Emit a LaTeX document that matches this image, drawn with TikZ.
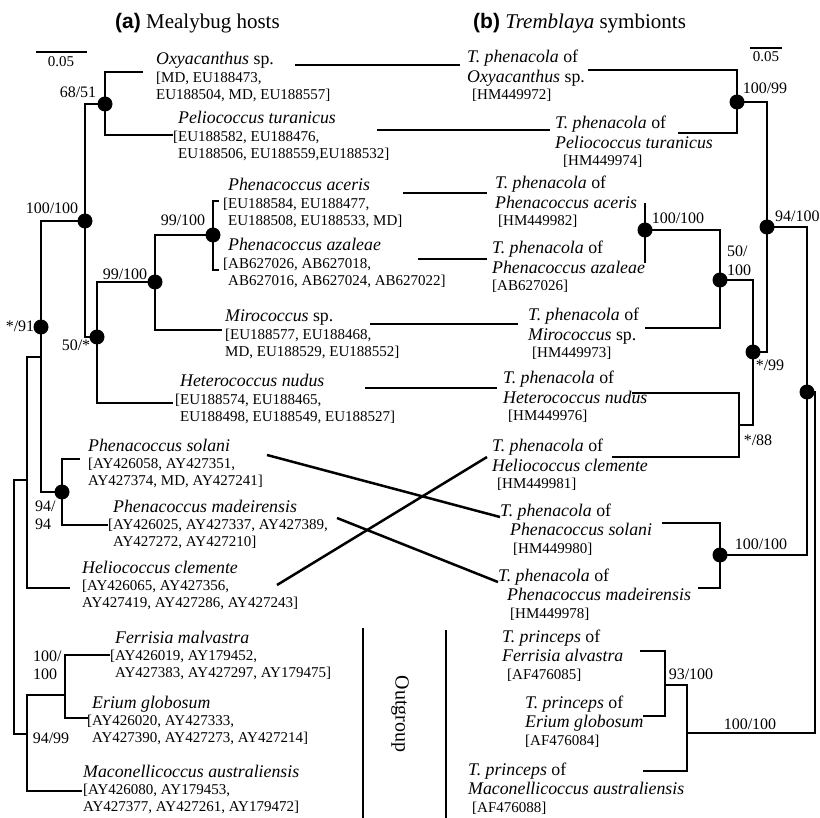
\documentclass[tikz,border=0pt]{standalone}
\usepackage{fontspec}
\setmainfont{Liberation Serif}
\newfontfamily\headsf{Liberation Sans}
\newcommand\nmf{\fontsize{17.8}{17.5}\selectfont\itshape}
\newcommand\acf{\fontsize{15}{17.5}\selectfont\upshape}
\newcommand\up[1]{\textup{#1}}
% left block: italic name + two accession lines
\newcommand\tblk[3]{\vtop{\lineskiplimit=-30pt\lineskip=0pt\baselineskip=17.5pt\hbox{\nmf #1}\hbox{\acf #2}\baselineskip=17pt\hbox{\acf #3}}}
% right block: two italic lines + one accession line
\newcommand\sblk[3]{\vtop{\lineskiplimit=-30pt\lineskip=0pt\baselineskip=19.5pt\hbox{\nmf #1}\hbox{\nmf #2}\baselineskip=17.5pt\hbox{\acf #3}}}
\begin{document}
\begin{tikzpicture}[x=1pt,y=-1pt,
  br/.style={line width=1.5pt},
  cn/.style={line width=2.5pt},
  dot/.style={circle,fill=black,draw=none,inner sep=0pt,minimum size=15pt},
  supp/.style={font=\fontsize{16}{18}\selectfont,inner sep=0pt},
  txt/.style={anchor=base west,inner sep=0pt}]
\useasboundingbox (0,0) rectangle (820,818);
\fill[white] (0,0) rectangle (820,818);

% ---------- titles ----------
\node[txt] (ta) at (115,29) {\fontsize{21}{24}\selectfont{\headsf\bfseries (a)} Mealybug hosts};
\node[txt] (tb) at (473,29) {\fontsize{21}{24}\selectfont{\headsf\bfseries (b)} \textit{Tremblaya} symbionts};

% ---------- scale bars ----------
\coordinate (sa1) at (36,52); \coordinate (sa2) at (87,52);
\draw[line width=1.3pt] (sa1) -- (sa2);
\node[font=\fontsize{15}{17}\selectfont,inner sep=0pt] (sal) at (61,62) {0.05};
\coordinate (sb1) at (750,48); \coordinate (sb2) at (782,48);
\draw[line width=1.3pt] (sb1) -- (sb2);
\node[font=\fontsize{15}{17}\selectfont,inner sep=0pt] (sbl) at (766,57) {0.05};

% ---------- left tree coordinates ----------
\coordinate (aRoot) at (14,607);
\coordinate (aIn) at (27,480);
\coordinate (aOG) at (27,734);
\coordinate (a91) at (41,357);
\coordinate (a91dot) at (41,327);
\coordinate (a100) at (85,221);
\coordinate (a68) at (105,104);
\coordinate (a50) at (97,337);
\coordinate (a99b) at (155,282);
\coordinate (a99a) at (213,235);
\coordinate (a94) at (62,492);
\coordinate (aFE) at (65,695);
\coordinate (tOxy) at (143,72);
\coordinate (tPel) at (173,135);
\coordinate (tAce) at (219,201);
\coordinate (tAza) at (219,270);
\coordinate (tMir) at (222,330);
\coordinate (tHet) at (173,403);
\coordinate (tSol) at (80,459);
\coordinate (tMad) at (108,525);
\coordinate (tHel) at (70,588);
\coordinate (tFer) at (110,655);
\coordinate (tEri) at (88,718);
\coordinate (tMac) at (82,791);

\draw[br] (aRoot) |- (aIn);
\draw[br] (aRoot) |- (aOG);
\draw[br] (aIn) |- (a91);
\draw[br] (aIn) |- (tHel);
\draw[br] (a91) |- (a100);
\draw[br] (a91) |- (a94);
\draw[br] (a100) |- (a68);
\draw[br] (a100) |- (a50);
\draw[br] (a68) |- (tOxy);
\draw[br] (a68) |- (tPel);
\draw[br] (a50) |- (a99b);
\draw[br] (a50) |- (tHet);
\draw[br] (a99b) |- (a99a);
\draw[br] (a99b) |- (tMir);
\draw[br] (a99a) |- (tAce);
\draw[br] (a99a) |- (tAza);
\draw[br] (a94) |- (tSol);
\draw[br] (a94) |- (tMad);
\draw[br] (aOG) |- (aFE);
\draw[br] (aOG) |- (tMac);
\draw[br] (aFE) |- (tFer);
\draw[br] (aFE) |- (tEri);

\foreach \n in {a91dot,a100,a68,a50,a99b,a99a,a94} \node[dot] at (\n) {};

% left support values
\node[supp] (l68) at (78,92) {68/51};
\node[supp] (l100) at (52,208) {100/100};
\node[supp] (l91) at (20,326) {*/91};
\node[supp] (l50) at (76,345) {50/*};
\node[supp] (l99a) at (183,220) {99/100};
\node[supp] (l99b) at (125,274) {99/100};
\node[supp,anchor=base west] (l94) at (35,511.5) {\vtop{\baselineskip=18pt\hbox{94/}\hbox{94}}};
\node[supp,anchor=base west] (lFE) at (33,661) {\vtop{\baselineskip=18.5pt\hbox{100/}\hbox{100}}};
\node[supp] (lOG) at (51,738) {94/99};

% left text blocks
\node[txt] (L1) at (156,65) {\tblk{Oxyacanthus \up{sp.}}{[MD, EU188473,}{EU188504, MD, EU188557]}};
\node[txt] (L2) at (178,124) {\tblk{Peliococcus turanicus}{\llap{[}EU188582, EU188476,}{EU188506, EU188559,EU188532]}};
\node[txt] (L3) at (228,191) {\tblk{Phenacoccus aceris}{\llap{[}EU188584, EU188477,}{EU188508, EU188533, MD]}};
\node[txt] (L4) at (228,251) {\tblk{Phenacoccus azaleae}{\llap{[}AB627026, AB627018,}{AB627016, AB627024, AB627022]}};
\node[txt] (L5) at (225,322) {\tblk{Mirococcus \up{sp.}}{[EU188577, EU188468,}{MD, EU188529, EU188552]}};
\node[txt] (L6) at (180,387) {\tblk{Heterococcus nudus}{\llap{[}EU188574, EU188465,}{EU188498, EU188549, EU188527]}};
\node[txt] (L7) at (88,451) {\tblk{Phenacoccus solani}{[AY426058, AY427351,}{AY427374, MD, AY427241]}};
\node[txt] (L8) at (113,512) {\tblk{Phenacoccus madeirensis}{\llap{[}AY426025, AY427337, AY427389,}{AY427272, AY427210]}};
\node[txt] (L9) at (82,573) {\tblk{Heliococcus clemente}{[AY426065, AY427356,}{AY427419, AY427286, AY427243]}};
\node[txt] (L10) at (115,643) {\tblk{Ferrisia malvastra}{\llap{[}AY426019, AY179452,}{AY427383, AY427297, AY179475]}};
\node[txt] (L11) at (92,708) {\tblk{Erium globosum}{\llap{[}AY426020, AY427333,}{AY427390, AY427273, AY427214]}};
\node[txt] (L12) at (83,777) {\tblk{Maconellicoccus australiensis}{[AY426080, AY179453,}{AY427377, AY427261, AY179472]}};

% ---------- right tree coordinates ----------
\coordinate (bRoot) at (815,560);
\coordinate (bBig) at (807,392);
\coordinate (b94) at (767,227);
\coordinate (b1099) at (737,102);
\coordinate (b99) at (753,352);
\coordinate (b50) at (720,280);
\coordinate (b100a) at (645,230);
\coordinate (b88) at (739,425);
\coordinate (b100b) at (720,555);
\coordinate (bOG) at (687,733);
\coordinate (b93) at (665,685);
\coordinate (uOxy) at (588,70);
\coordinate (uPel) at (678,133);
\coordinate (uAce) at (645,203);
\coordinate (uAza) at (645,263);
\coordinate (uMir) at (645,328);
\coordinate (uHet) at (632,393);
\coordinate (uHel) at (612,457);
\coordinate (uSol) at (662,523);
\coordinate (uMad) at (698,588);
\coordinate (uFer) at (640,651);
\coordinate (uEri) at (643,716);
\coordinate (uMac) at (643,771);

\draw[br] (bRoot) |- (bBig);
\draw[br] (bRoot) |- (bOG);
\draw[br] (bBig) |- (b94);
\draw[br] (bBig) |- (b100b);
\draw[br] (b94) |- (b1099);
\draw[br] (b94) |- (b99);
\draw[br] (b1099) |- (uOxy);
\draw[br] (b1099) |- (uPel);
\draw[br] (b99) |- (b50);
\draw[br] (b99) |- (b88);
\draw[br] (b50) |- (b100a);
\draw[br] (b50) |- (uMir);
\draw[br] (b100a) |- (uAce);
\draw[br] (b100a) |- (uAza);
\draw[br] (b88) |- (uHet);
\draw[br] (b88) |- (uHel);
\draw[br] (b100b) |- (uSol);
\draw[br] (b100b) |- (uMad);
\draw[br] (bOG) |- (b93);
\draw[br] (bOG) |- (uMac);
\draw[br] (b93) |- (uFer);
\draw[br] (b93) |- (uEri);

\foreach \n in {bBig,b94,b1099,b99,b50,b100a,b100b} \node[dot] at (\n) {};

% right support values
\node[supp] (r1099) at (765,88) {100/99};
\node[supp,anchor=west] (r94) at (775,216) {94/100};
\node[supp] (r100a) at (678,218) {100/100};
\node[supp,anchor=base west] (r50) at (727,257) {\vtop{\baselineskip=19pt\hbox{50/}\hbox{100}}};
\node[supp] (r99) at (770,365) {*/99};
\node[supp] (r88) at (758,440) {*/88};
\node[supp] (r100b) at (761,544) {100/100};
\node[supp] (r93) at (691,674) {93/100};
\node[supp] (rOG) at (750,724) {100/100};

% right text blocks
\node[txt] (R1) at (467,63) {\sblk{T. phenacola \up{of}}{Oxyacanthus \up{sp.}}{\kern5pt[HM449972]}};
\node[txt] (R2) at (555,129) {\sblk{T. phenacola \up{of}}{Peliococcus turanicus}{\kern8pt[HM449974]}};
\node[txt] (R3) at (495,189) {\sblk{T. phenacola \up{of}}{Phenacoccus aceris}{\kern3pt[HM449982]}};
\node[txt] (R4) at (492,254) {\sblk{T. phenacola \up{of}}{Phenacoccus azaleae}{[AB627026]}};
\node[txt] (R5) at (528,321) {\sblk{T. phenacola \up{of}}{Mirococcus \up{sp.}}{\kern4pt[HM449973]}};
\node[txt] (R6) at (503,384) {\sblk{T. phenacola \up{of}}{Heterococcus nudus}{\kern5pt[HM449976]}};
\node[txt] (R7) at (492,452) {\sblk{T. phenacola \up{of}}{Heliococcus clemente}{\kern5pt[HM449981]}};
\node[txt] (R8) at (500,516) {\sblk{T. phenacola \up{of}}{\kern10pt Phenacoccus solani}{\kern13pt[HM449980]}};
\node[txt] (R9) at (498,581) {\sblk{T. phenacola \up{of}}{\kern9pt Phenacoccus madeirensis}{\kern12pt[HM449978]}};
\node[txt] (R10) at (502,642) {\sblk{T. princeps \up{of}}{Ferrisia alvastra}{\kern5pt[AF476085]}};
\node[txt] (R11) at (525,708) {\sblk{T. princeps \up{of}}{Erium globosum}{[AF476084]}};
\node[txt] (R12) at (468,775) {\sblk{T. princeps \up{of}}{Maconellicoccus australiensis}{\kern4pt[AF476088]}};

% ---------- host-symbiont connectors ----------
\coordinate (k1a) at (295,65);  \coordinate (k1b) at (460,65);
\coordinate (k2a) at (377,130); \coordinate (k2b) at (550,130);
\coordinate (k3a) at (403,193); \coordinate (k3b) at (487,193);
\coordinate (k4a) at (418,259); \coordinate (k4b) at (487,259);
\coordinate (k5a) at (370,324); \coordinate (k5b) at (518,324);
\coordinate (k6a) at (365,388); \coordinate (k6b) at (497,388);
\coordinate (k7a) at (267,455); \coordinate (k7b) at (500,517);
\coordinate (k8a) at (337,518); \coordinate (k8b) at (498,582);
\coordinate (k9a) at (277,585); \coordinate (k9b) at (487,457);
\foreach \i in {1,...,9} \draw[cn] (k\i a) -- (k\i b);

% ---------- outgroup ----------
\coordinate (og1t) at (363,628); \coordinate (og1b) at (363,818);
\coordinate (og2t) at (446,630); \coordinate (og2b) at (446,818);
\draw[br] (og1t) -- (og1b);
\draw[br] (og2t) -- (og2b);
\node[rotate=-90,font=\fontsize{20}{22}\selectfont,inner sep=0pt] (og) at (400,714) {Outgroup};
\end{tikzpicture}
\end{document}
